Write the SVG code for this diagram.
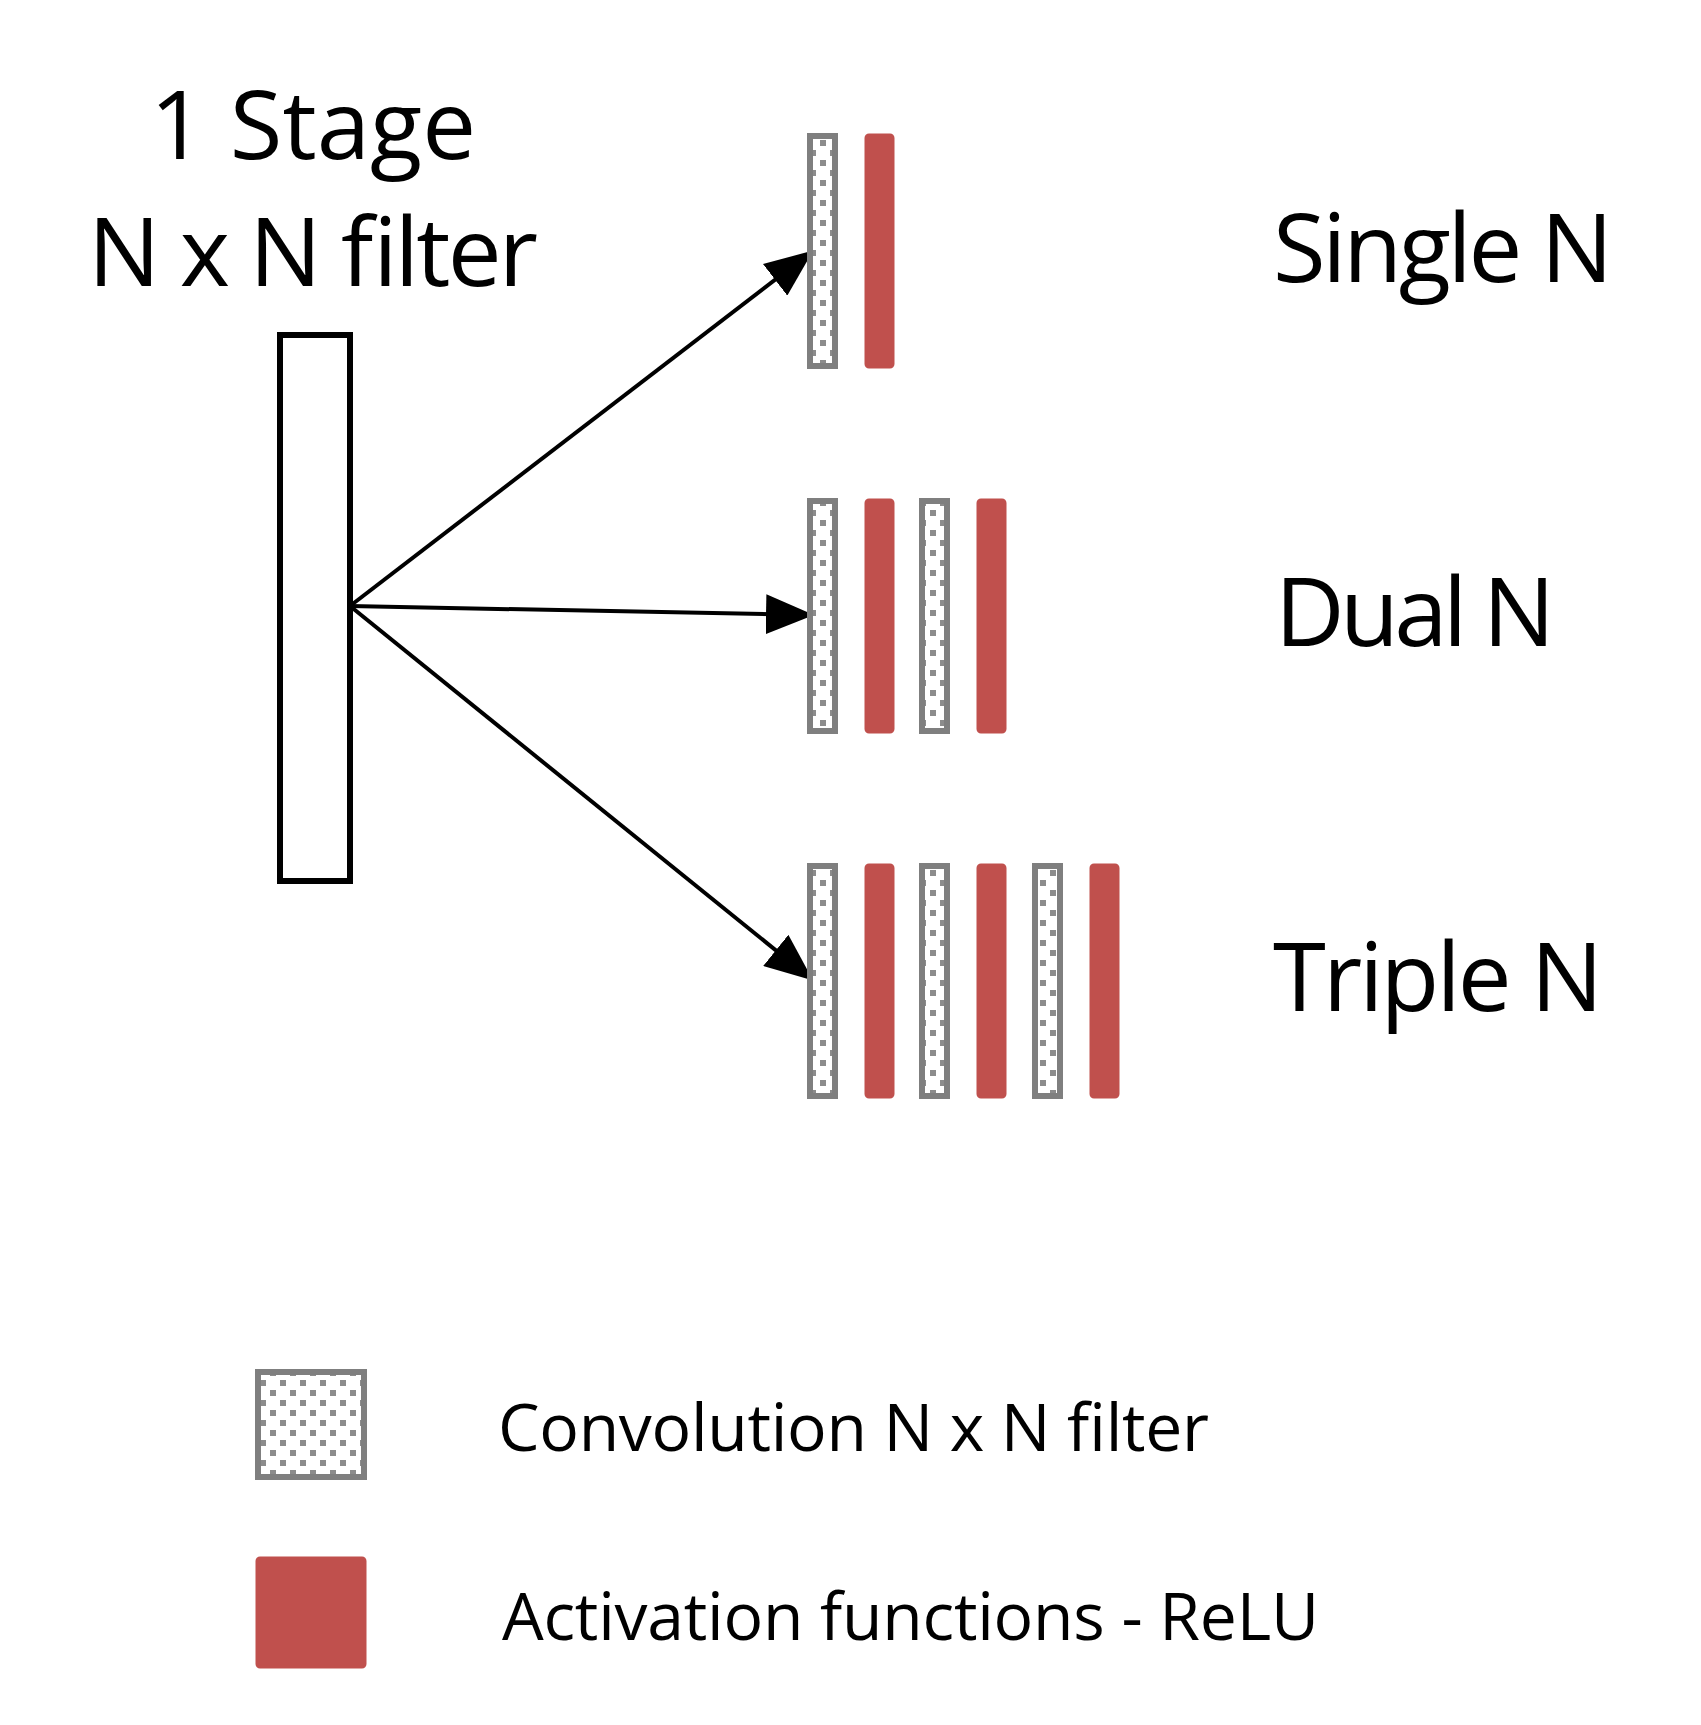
<svg xmlns="http://www.w3.org/2000/svg" width="1701" height="1725" viewBox="0 0 1701 1725">
<style>
.t{font-family:"Open Sans","Liberation Sans",sans-serif;fill:#000}
.c{fill:url(#chk);stroke:#7f7f7f;stroke-width:6}
.r{fill:#c0504d;stroke:#c0504d;stroke-width:3}
.a{stroke:#000;stroke-width:4;fill:none;marker-end:url(#ah)}
</style>
<defs>
<pattern id="chk" width="20" height="20" patternUnits="userSpaceOnUse">
<rect width="20" height="20" fill="#fff"/>
<rect x="0" y="0" width="6" height="6" fill="#8c8c8c"/>
<rect x="10" y="10" width="6" height="6" fill="#8c8c8c"/>
</pattern>
<marker id="ah" markerWidth="12" markerHeight="10" refX="11" refY="5" orient="auto" markerUnits="strokeWidth"><path d="M0,0 L12,5 L0,10 z" fill="#000"/></marker>
</defs>
<g id="title"><text class="t" x="313" y="159" font-size="96" text-anchor="middle">1 Stage</text>
<text class="t" x="313" y="286" font-size="96" text-anchor="middle" textLength="450">N x N filter</text></g>
<g id="source"><rect x="280" y="335" width="70" height="546" fill="#fff" stroke="#000" stroke-width="6"/></g>
<g id="connectors">
<line class="a" x1="350" y1="606" x2="810" y2="253"/>
<line class="a" x1="350" y1="606" x2="810" y2="615"/>
<line class="a" x1="350" y1="606" x2="810" y2="978"/>
</g>
<g id="single"><rect class="c" x="810" y="136" width="25" height="230"/><rect class="r" x="866" y="135" width="27" height="232" rx="3"/>
<text class="t" x="1273" y="282" font-size="96" textLength="340">Single N</text></g>
<g id="dual"><rect class="c" x="810" y="501" width="25" height="230"/><rect class="r" x="866" y="500" width="27" height="232" rx="3"/>
<rect class="c" x="922" y="501" width="25" height="230"/><rect class="r" x="978" y="500" width="27" height="232" rx="3"/>
<text class="t" x="1275" y="646" font-size="96" textLength="280">Dual N</text></g>
<g id="triple"><rect class="c" x="810" y="866" width="25" height="230"/><rect class="r" x="866" y="865" width="27" height="232" rx="3"/>
<rect class="c" x="922" y="866" width="25" height="230"/><rect class="r" x="978" y="865" width="27" height="232" rx="3"/>
<rect class="c" x="1035" y="866" width="25" height="230"/><rect class="r" x="1091" y="865" width="27" height="232" rx="3"/>
<text class="t" x="1273" y="1011" font-size="96" textLength="330">Triple N</text></g>
<g id="legend">
<rect class="c" x="258" y="1372" width="106" height="105"/>
<text class="t" x="498" y="1451" font-size="66" textLength="711">Convolution N x N filter</text>
<rect class="r" x="257" y="1558" width="108" height="109" rx="3"/>
<text class="t" x="502" y="1640" font-size="66" textLength="817">Activation functions - ReLU</text>
</g>
</svg>
